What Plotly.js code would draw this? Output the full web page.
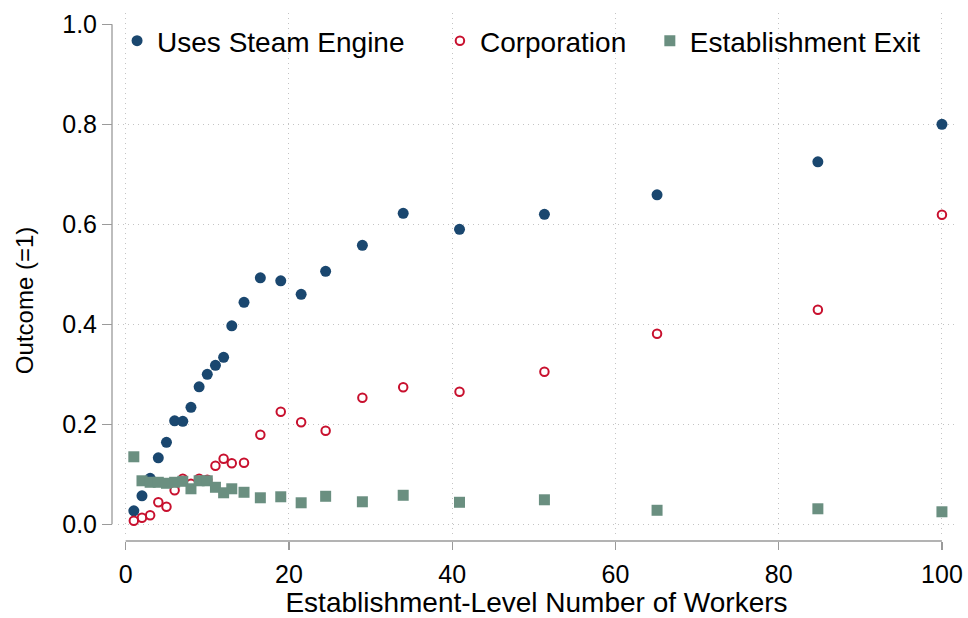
<!DOCTYPE html>
<html><head><meta charset="utf-8">
<script src="https://cdn.plot.ly/plotly-3.0.1.min.js"></script>
<style>html,body{margin:0;padding:0;background:#fff}</style>
</head><body><div id="chart" style="width:968px;height:618px"></div>
<script>
const workers = [1,2,3,4,5,6,7,8,9,10,11,12,13,14.5,16.5,19,21.5,24.5,29,34,40.9,51.3,65.1,84.8,100];
const steam = [0.027,0.057,0.092,0.133,0.164,0.207,0.206,0.234,0.275,0.300,0.318,0.334,0.397,0.444,0.493,0.487,0.460,0.506,0.558,0.622,0.590,0.620,0.659,0.725,0.800];
const corporation = [0.007,0.013,0.018,0.044,0.035,0.068,0.091,0.081,0.091,0.089,0.117,0.131,0.122,0.123,0.179,0.225,0.204,0.187,0.253,0.274,0.265,0.305,0.381,0.429,0.619];
const exitRate = [0.135,0.087,0.084,0.084,0.082,0.084,0.086,0.071,0.087,0.087,0.074,0.063,0.071,0.064,0.053,0.055,0.043,0.056,0.045,0.058,0.044,0.049,0.028,0.031,0.025];
const xTicks = [0,20,40,60,80,100];
const yTicks = [0,0.2,0.4,0.6,0.8,1.0];
const yTickText = ['0.0','0.2','0.4','0.6','0.8','1.0'];
const yGrid = [0,0.2,0.4,0.6,0.8];

const FONT = 'Liberation Sans, Arial, sans-serif';
const FS = 25;
const FT = 28;
const gridCol = '#c4c4c4';
const axCol = '#9a9a9a';

const traces = [
  {x:[null], y:[null], yaxis:'y2', type:'scatter', mode:'markers', showlegend:false, hoverinfo:'skip'},
  {x: workers, y: steam, type:'scatter', mode:'markers', name:'Uses Steam Engine', legend:'legend',
   marker:{symbol:'circle', size:11, color:'#1a476f'}},
  {x: workers, y: corporation, type:'scatter', mode:'markers', name:'Corporation', legend:'legend2',
   marker:{symbol:'circle-open', size:8.5, color:'#c8102e', line:{width:2, color:'#c8102e'}}},
  {x: workers, y: exitRate, type:'scatter', mode:'markers', name:'Establishment Exit', legend:'legend3',
   marker:{symbol:'square', size:11, color:'#6a8f80'}}
];

const legBase = {orientation:'h', xanchor:'left', yanchor:'middle', y:0.947,
  bgcolor:'rgba(0,0,0,0)', borderwidth:0, font:{family:FONT, size:FT, color:'#000'}};

const layout = {
  width:968, height:618,
  margin:{l:112, r:13, t:13, b:77, pad:0},
  paper_bgcolor:'#fff', plot_bgcolor:'#fff',
  font:{family:FONT, size:FS, color:'#000'},
  showlegend:true,
  legend: Object.assign({}, legBase, {x:0.006}),
  legend2: Object.assign({}, legBase, {x:0.389}),
  legend3: Object.assign({}, legBase, {x:0.638}),
  xaxis:{domain:[0.0071,1], anchor:'free', position:0, range:[-0.94,101.6],
    tickmode:'array', tickvals:xTicks, ticks:'outside', ticklen:8, tickwidth:1.3, tickcolor:axCol,
    ticklabelstandoff:3,
    showline:false, zeroline:false, showgrid:true, gridcolor:gridCol, griddash:'1px,4px', gridwidth:1,
    tickfont:{family:FONT, size:FS, color:'#000'},
    title:{text:'Establishment-Level Number of Workers', font:{family:FONT, size:FT, color:'#000'}, standoff:11}},
  yaxis:{domain:[0.0114,1], anchor:'free', position:0, range:[-0.0214,1.0226],
    tickmode:'array', tickvals:yTicks, ticktext:yTickText, ticks:'outside', ticklen:10, tickwidth:1.3, tickcolor:axCol,
    showline:false, zeroline:false, showgrid:false,
    tickfont:{family:FONT, size:FS, color:'#000'}},
  yaxis2:{domain:[0.0114,1], overlaying:'y', anchor:'free', position:0, range:[-0.0214,1.0226],
    tickmode:'array', tickvals:yGrid, ticks:'', showticklabels:false,
    showline:false, zeroline:false, showgrid:true, gridcolor:gridCol, griddash:'1px,4px', gridwidth:1},
  annotations:[
    {text:'Outcome (=1)', xref:'paper', yref:'paper', x:-0.1045, y:0.456, xanchor:'center', yanchor:'middle',
     textangle:-90, showarrow:false, font:{family:FONT, size:24, color:'#000'}}
  ],
  shapes:[
    {type:'line', xref:'x', yref:'paper', x0:0, x1:100, y0:0, y1:0, line:{color:axCol, width:1.3}},
    {type:'line', xref:'paper', yref:'y', x0:0, x1:0, y0:0, y1:1, line:{color:axCol, width:1.3}}
  ]
};

Plotly.newPlot('chart', traces, layout, {displayModeBar:false, staticPlot:true});
</script></body></html>
